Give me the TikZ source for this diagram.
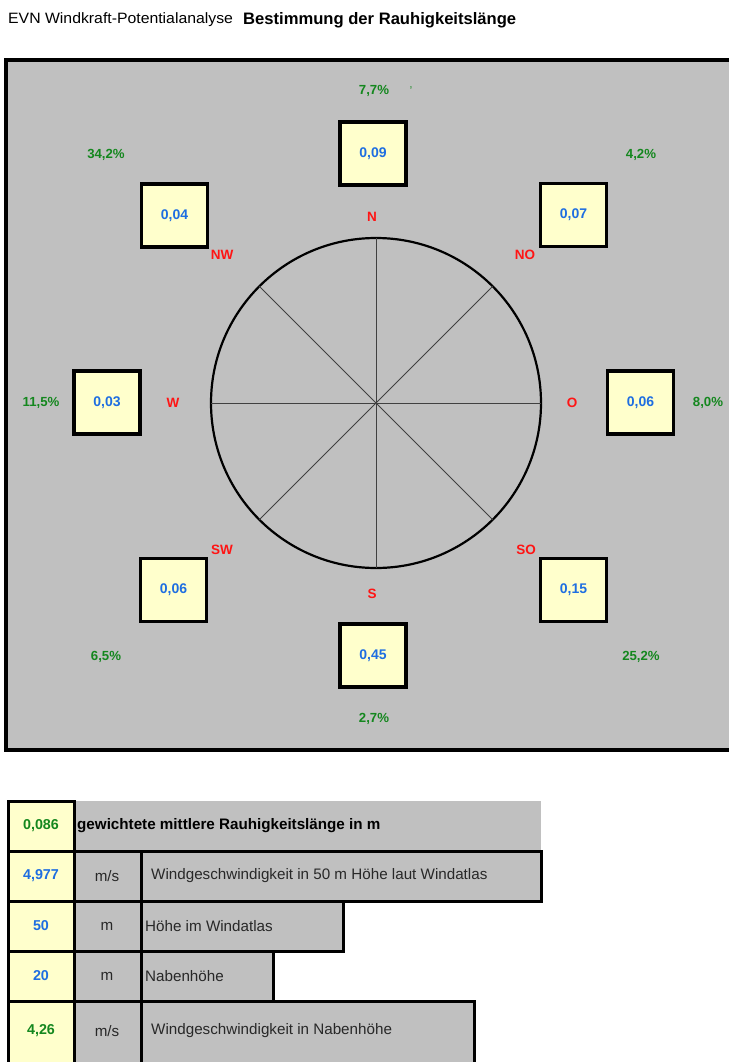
\documentclass[tikz,border=0pt]{standalone}
\usepackage{fontspec}
\setmainfont{Liberation Sans}
\definecolor{bggray}{RGB}{192,192,192}
\definecolor{boxyellow}{RGB}{255,255,204}
\definecolor{valblue}{RGB}{30,110,225}
\definecolor{pctgreen}{RGB}{20,135,30}
\definecolor{dirred}{RGB}{255,20,20}
\definecolor{txtgray}{RGB}{40,40,40}
\tikzset{
  valbox/.style={draw=black, line width=3.2pt, fill=boxyellow, minimum width=66pt, minimum height=63pt, inner sep=0pt, text=valblue, font=\bfseries\fontsize{14}{16}\selectfont},
  pct/.style={text=pctgreen, inner sep=0pt, font=\bfseries\fontsize{13.2}{15}\selectfont},
  dirlab/.style={text=dirred, inner sep=0pt, font=\bfseries\fontsize{13.5}{15}\selectfont},
  cell/.style={draw=black, line width=3pt, fill=bggray},
  ycell/.style={draw=black, line width=3pt, fill=boxyellow},
  cellnum/.style={inner sep=0pt, font=\bfseries\fontsize{14.3}{16}\selectfont},
  celltxt/.style={inner sep=0pt, anchor=west, text=txtgray, font=\fontsize{15.2}{17}\selectfont},
  spoke/.style={line width=0.8pt, draw=black!75}
}
\begin{document}
\begin{tikzpicture}[x=1pt,y=-1pt]
\useasboundingbox[fill=white] (0,0) rectangle (728,1062);
% title
\node[anchor=west, inner sep=0pt, font=\fontsize{15.8}{17}\selectfont] (t1) at (8,20) {\scalebox{1.0}[0.95]{EVN Windkraft-Potentialanalyse}};
\node[anchor=west, inner sep=0pt, font=\bfseries\fontsize{16.6}{18}\selectfont] (t2) at (243,20) {Bestimmung der Rauhigkeitslänge};
% frame
\draw[line width=3.5pt, fill=bggray] (6,60) rectangle (745,750);
% compass
\coordinate (c) at (376,403);
\draw[line width=2.2pt] (c) circle (165);
\foreach \a in {0,45,...,315} {
  \draw[spoke] (c) -- ++(\a:165);
}
% value boxes
\node[valbox] (bN)  at (373,153.5) {0,09};
\node[valbox] (bNW) at (174.5,215.5) {0,04};
\node[valbox] (bNO) at (573.5,215) {0,07};
\node[valbox] (bW)  at (107,402.5) {0,03};
\node[valbox] (bO)  at (640.5,402.5) {0,06};
\node[valbox] (bSW) at (173.5,590) {0,06};
\node[valbox] (bS)  at (373,655.5) {0,45};
\node[valbox] (bSO) at (573.5,590) {0,15};
% percentages
\node[pct] (pN)  at (374,91) {7,7\%};
\node[inner sep=0pt, text=pctgreen!70!bggray, font=\bfseries\fontsize{10}{10}\selectfont] (tick) at (411,90) {'};
\node[pct] (pNW) at (106,155) {34,2\%};
\node[pct] (pNO) at (641,155) {4,2\%};
\node[pct] (pW)  at (41,403) {11,5\%};
\node[pct] (pO)  at (708,403) {8,0\%};
\node[pct] (pSW) at (106,657) {6,5\%};
\node[pct] (pSO) at (641,657) {25,2\%};
\node[pct] (pS)  at (374,719) {2,7\%};
% direction labels
\node[dirlab] (dN)  at (372,217) {N};
\node[dirlab] (dNW) at (222,255) {NW};
\node[dirlab] (dNO) at (525,255) {NO};
\node[dirlab] (dW)  at (173,403) {W};
\node[dirlab] (dO)  at (572,403) {O};
\node[dirlab] (dSW) at (222,550) {SW};
\node[dirlab] (dSO) at (526,550) {SO};
\node[dirlab] (dS)  at (372,594) {S};
% table
\fill[bggray] (74,801) rectangle (541,851);
\draw[cell] (141,851) rectangle (541,901);
\draw[cell] (141,901) rectangle (343,951);
\draw[cell] (141,951) rectangle (273,1001);
\draw[cell] (141,1001) rectangle (474,1075);
\draw[cell] (74,851) rectangle (141,901);
\draw[cell] (74,901) rectangle (141,951);
\draw[cell] (74,951) rectangle (141,1001);
\draw[cell] (74,1001) rectangle (141,1075);
\draw[ycell] (8,801) rectangle (74,851);
\draw[ycell] (8,851) rectangle (74,901);
\draw[ycell] (8,901) rectangle (74,951);
\draw[ycell] (8,951) rectangle (74,1001);
\draw[ycell] (8,1001) rectangle (74,1075);
\node[cellnum, text=pctgreen] (v1) at (41,826) {0,086};
\node[cellnum, text=valblue] (v2) at (41,876) {4,977};
\node[cellnum, text=valblue] (v3) at (41,926) {50};
\node[cellnum, text=valblue] (v4) at (41,976) {20};
\node[cellnum, text=pctgreen] (v5) at (41,1031) {4,26};
\node[celltxt, anchor=center] (u2) at (107,876) {m/s};
\node[celltxt, anchor=center] (u3) at (107,926) {m};
\node[celltxt, anchor=center] (u4) at (107,976) {m};
\node[celltxt, anchor=center] (u5) at (107,1031) {m/s};
\node[celltxt, text=black, font=\bfseries\fontsize{15.2}{17}\selectfont] (l1) at (77,826) {gewichtete mittlere Rauhigkeitslänge in m};
\node[celltxt] (l2) at (151,876) {Windgeschwindigkeit in 50 m Höhe laut Windatlas};
\node[celltxt] (l3) at (145,926) {Höhe im Windatlas};
\node[celltxt] (l4) at (145,976) {Nabenhöhe};
\node[celltxt] (l5) at (151,1031) {Windgeschwindigkeit in Nabenhöhe};
\end{tikzpicture}
\end{document}
